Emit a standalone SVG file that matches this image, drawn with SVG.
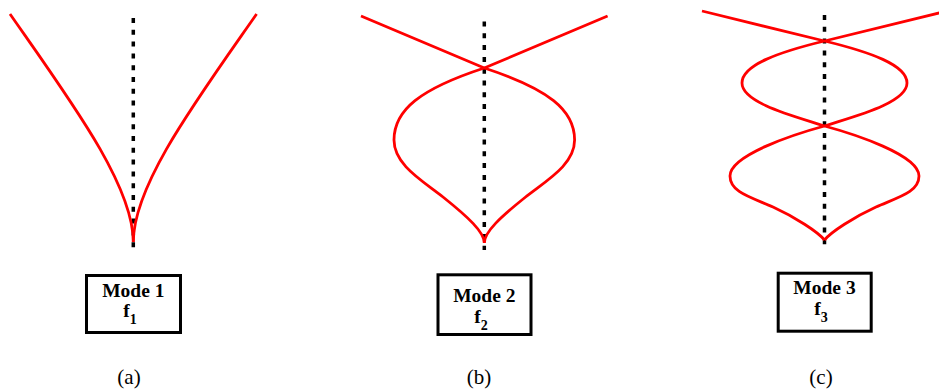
<svg xmlns="http://www.w3.org/2000/svg" width="939" height="391" viewBox="0 0 939 391">
<style>
.axis{stroke:#000;stroke-width:3.5;stroke-dasharray:5 6.8;fill:none}
.mode{stroke:#ff0000;stroke-width:2.8;fill:none;stroke-linejoin:round;stroke-linecap:butt}
.box{fill:#fff;stroke:#000;stroke-width:3}
.lbl{font-family:"Liberation Serif","Times New Roman",serif;font-weight:bold;font-size:19.5px;text-anchor:middle;fill:#000}
.sub{font-size:14px}
.cap{font-family:"Liberation Serif","Times New Roman",serif;font-size:21px;text-anchor:middle;fill:#000}
</style>
<rect width="939" height="391" fill="#fff"/>
<g id="connectors">
<g id="panel-a-shape">
<path class="axis" d="M133.3,18 V248"/>
<path class="mode" d="M133.3,242 C133.3,185 70,100 10,14"/>
<path class="mode" d="M133.3,242 C133.3,185 196.6,100 256.6,14"/>
</g>
<g id="panel-b-shape">
<path class="axis" d="M484.3,21.5 V250"/>
<path class="mode" d="M484.3,243 C484.3,232 468,217 443,197 C423,181 394,165 394,140 C394,110 420,89 484.3,68 L361,16"/>
<path class="mode" d="M484.3,243 C484.3,232 500.6,217 525.6,197 C545.6,181 574.6,165 574.6,140 C574.6,110 548.6,89 484.3,68 L607.6,16"/>
</g>
<g id="panel-c-shape">
<path class="axis" d="M824.5,15 V245"/>
<path class="mode" d="M824.5,240 C818,232 795,217 773,207 C750,197 730,192 730,176 C730,155 795,134 824.5,126 C848,118 907,104 907,83 C907,65 870,52 824.5,41 L702,11"/>
<path class="mode" d="M824.5,240 C831,232 854,217 876,207 C899,197 919,192 919,176 C919,155 854,134 824.5,126 C801,118 742,104 742,83 C742,65 779,52 824.5,41 L947,11"/>
</g>
</g>
<g id="node-mode1">
<rect class="box" x="86.5" y="275.5" width="94" height="57"/>
<text class="lbl" x="133.3" y="297">Mode 1</text>
<text class="lbl" x="130" y="317">f<tspan class="sub" dy="7">1</tspan></text>
</g>
<g id="node-mode2">
<rect class="box" x="438" y="274.8" width="93" height="59.7"/>
<text class="lbl" x="484.3" y="301.5">Mode 2</text>
<text class="lbl" x="481" y="323">f<tspan class="sub" dy="7">2</tspan></text>
</g>
<g id="node-mode3">
<rect class="box" x="778.2" y="273.2" width="93" height="58"/>
<text class="lbl" x="824.5" y="293.5">Mode 3</text>
<text class="lbl" x="821" y="315">f<tspan class="sub" dy="7">3</tspan></text>
</g>
<text class="cap" x="129" y="384">(a)</text>
<text class="cap" x="479" y="384">(b)</text>
<text class="cap" x="821" y="384">(c)</text>
</svg>
